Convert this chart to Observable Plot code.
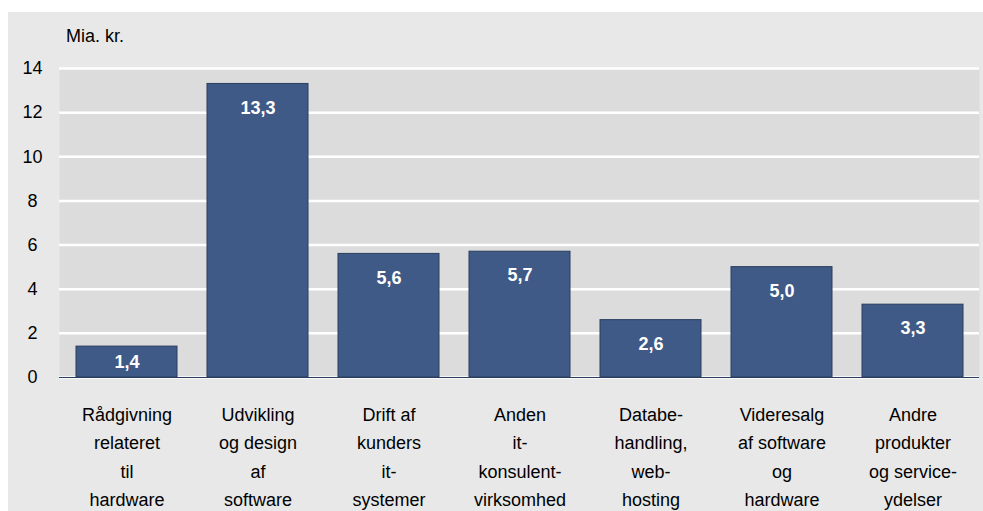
<!DOCTYPE html>
<html>
<head>
<meta charset="utf-8">
<script src="https://cdn.jsdelivr.net/npm/d3@7"></script>
<script src="https://cdn.jsdelivr.net/npm/@observablehq/plot@0.6"></script>
<style>
  html, body { margin: 0; padding: 0; background: #ffffff; }
  #wrap { position: absolute; left: 8px; top: 12px; width: 975px; height: 499px; background: #e8e8e8; }
  #unit { position: absolute; left: 58px; top: 14px; font-family: "Liberation Sans", Arial, sans-serif; font-size: 18px; color: #000; }
  #chart { position: absolute; left: 0; top: 0; }
</style>
</head>
<body>
<div id="wrap">
  <div id="chart"></div>
  <div id="unit">Mia. kr.</div>
</div>
<script>
const categories = [
  "Rådgivning\nrelateret\ntil\nhardware",
  "Udvikling\nog design\naf\nsoftware",
  "Drift af\nkunders\nit-\nsystemer",
  "Anden\nit-\nkonsulent-\nvirksomhed",
  "Databe-\nhandling,\nweb-\nhosting",
  "Videresalg\naf software\nog\nhardware",
  "Andre\nprodukter\nog service-\nydelser"
];
const values = [1.4, 13.3, 5.6, 5.7, 2.6, 5.0, 3.3];
const yTicks = [0, 2, 4, 6, 8, 10, 12, 14];

const data = categories.map((c, i) => ({cat: c, value: values[i]}));
const fmt = v => v.toFixed(1).replace(".", ",");

const chart = Plot.plot({
  width: 975,
  height: 499,
  marginLeft: 51,
  marginRight: 4,
  marginTop: 56,
  marginBottom: 134,
  style: {background: "transparent", fontFamily: "'Liberation Sans', Arial, sans-serif", fontSize: "18px", color: "#000"},
  x: {domain: categories, paddingInner: 0.23, paddingOuter: 0.125},
  y: {domain: [0, 14]},
  marks: [
    Plot.frame({fill: "#dcdcdc", stroke: null}),
    Plot.gridY(yTicks, {stroke: "#ffffff", strokeWidth: 2.5, strokeOpacity: 1}),
    Plot.barY(data, {x: "cat", y: "value", fill: "#3f5a86", stroke: "#2b3d5e", strokeWidth: 1}),
    Plot.ruleY([0], {stroke: "#2b3d5e", strokeWidth: 1.2}),
    Plot.text(data.filter(d => d.value >= 2), {x: "cat", y: "value", text: d => fmt(d.value), dy: 24, fill: "#ffffff", fontWeight: "bold", fontSize: 18}),
    Plot.text(data.filter(d => d.value < 2), {x: "cat", y: d => d.value / 2, text: d => fmt(d.value), fill: "#ffffff", fontWeight: "bold", fontSize: 18}),
    Plot.axisY(yTicks, {tickSize: 0, tickPadding: 27, textAnchor: "middle", fontSize: 18, label: null, tickFormat: d => String(d)}),
    Plot.axisX({tickSize: 0, tickPadding: 23, label: null, lineHeight: 1.58, fontSize: 18, tickFormat: d => d})
  ]
});
document.getElementById("chart").appendChild(chart);
</script>
</body>
</html>
